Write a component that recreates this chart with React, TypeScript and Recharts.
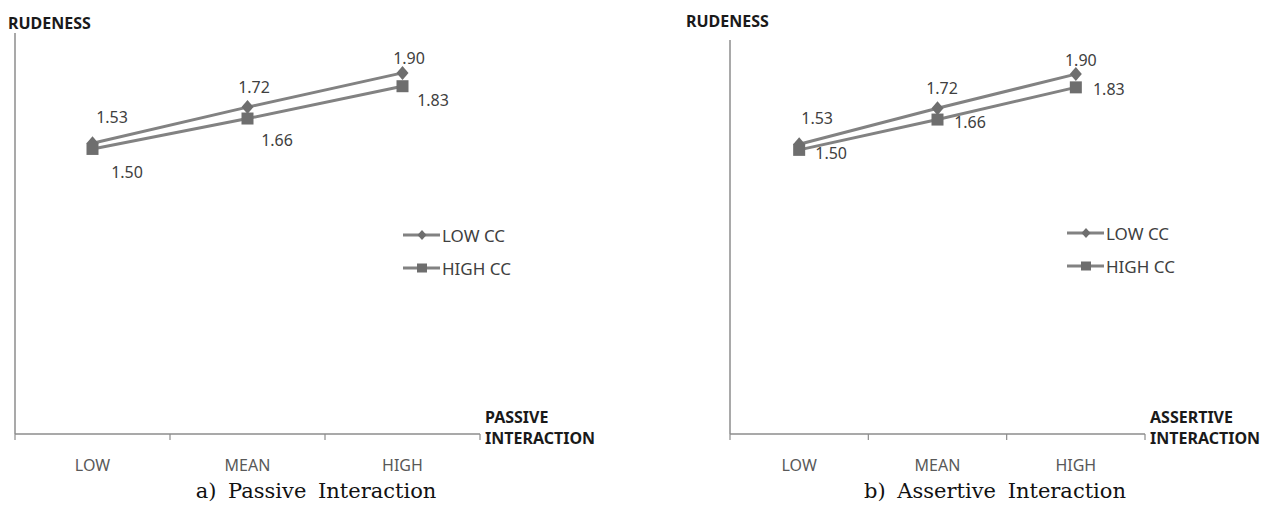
import React from "react";
import { LineChart, Line, XAxis, YAxis, Legend, LabelList } from "recharts";

// values
const categories = ["LOW", "MEAN", "HIGH"];
const passiveLowCC = [1.53, 1.72, 1.9];
const passiveHighCC = [1.5, 1.66, 1.83];
const assertiveLowCC = [1.53, 1.72, 1.9];
const assertiveHighCC = [1.5, 1.66, 1.83];
const seriesOrder = ["low", "high"];

const LINE = "#828282";
const MARK = "#6e6e6e";
const AXIS = "#8c8c8c";
const FONT = "'Noto Sans', sans-serif";

type Off = [number, number][];

// label offsets (dx, dy) from each point, like the hand-placed Excel labels
const passiveLowOff: Off = [[19.5, -26], [6.5, -20], [6.5, -15]];
const passiveHighOff: Off = [[34.5, 23], [29.5, 21.5], [30.5, 14]];
const assertiveLowOff: Off = [[18, -26], [4.5, -20], [5, -14]];
const assertiveHighOff: Off = [[32, 3], [32.5, 2.5], [33, 1.5]];

const diamondPath = (cx: number, cy: number, w: number, h: number) =>
  `M${cx},${cy - h} L${cx + w},${cy} L${cx},${cy + h} L${cx - w},${cy} Z`;

const DiamondDot = (props: any) => {
  const { cx, cy, index } = props;
  if (cx == null || cy == null) return <g key={`dd-${index}`} />;
  return <path key={`dd-${index}`} d={diamondPath(cx, cy, 6, 7)} fill={MARK} />;
};

const SquareDot = (props: any) => {
  const { cx, cy, index } = props;
  if (cx == null || cy == null) return <g key={`sd-${index}`} />;
  return <rect key={`sd-${index}`} x={cx - 6} y={cy - 6} width={12} height={12} fill={MARK} />;
};

const labelAt = (offs: Off) => (props: any) => {
  const { x, y, value, index } = props;
  const [dx, dy] = offs[index] || [0, -12];
  return (
    <text
      x={x + dx}
      y={y + dy}
      textAnchor="middle"
      dominantBaseline="central"
      fontFamily={FONT}
      fontSize={16}
      fill="#404040"
    >
      {Number(value).toFixed(2)}
    </text>
  );
};

const makeTick = (bw: number) => (props: any) => {
  const { x, y, payload, index } = props;
  const last = index === categories.length - 1;
  return (
    <g>
      <line x1={x - bw / 2} x2={x - bw / 2} y1={y} y2={y + 6} stroke={AXIS} strokeWidth={1.2} />
      {last && (
        <line x1={x + bw / 2} x2={x + bw / 2} y1={y} y2={y + 6} stroke={AXIS} strokeWidth={1.2} />
      )}
      <text
        x={x}
        y={y + 31}
        textAnchor="middle"
        dominantBaseline="central"
        fontFamily={FONT}
        fontSize={16}
        fill="#595959"
      >
        {payload.value}
      </text>
    </g>
  );
};

const legendContent = (props: any) => {
  const items = [...(props.payload || [])].sort(
    (a: any, b: any) => seriesOrder.indexOf(a.dataKey) - seriesOrder.indexOf(b.dataKey)
  );
  return (
    <div style={{ fontFamily: FONT }}>
      {items.map((entry: any) => (
        <div key={entry.value} style={{ display: "flex", alignItems: "center", height: 33 }}>
          <svg width={37} height={16}>
            <line x1={0} x2={37} y1={8} y2={8} stroke={LINE} strokeWidth={3} />
            {entry.dataKey === "low" ? (
              <path d={diamondPath(19, 8, 4.5, 5)} fill={MARK} />
            ) : (
              <rect x={14} y={3.5} width={10} height={9} fill={MARK} />
            )}
          </svg>
          <span style={{ marginLeft: 2, fontSize: 17, color: "#404040" }}>{entry.value}</span>
        </div>
      ))}
    </div>
  );
};

interface PanelProps {
  left: number;
  width: number;
  margin: { top: number; left: number; right: number; bottom: number };
  yMax: number;
  low: number[];
  high: number[];
  lowOff: Off;
  highOff: Off;
  xTitle: string;
  yTitleDx: number;
  yTitleDy: number;
  legendLeft: number;
  legendTop: number;
}

function Panel(p: PanelProps) {
  const data = categories.map((c, i) => ({ cat: c, low: p.low[i], high: p.high[i] }));
  const plotWidth = p.width - p.margin.left - p.margin.right - 1;
  const bw = plotWidth / categories.length;

  const yTitle = (props: any) => {
    const vb = props.viewBox;
    return (
      <text
        x={vb.x + vb.width + p.yTitleDx}
        y={vb.y + p.yTitleDy}
        dominantBaseline="central"
        fontFamily={FONT}
        fontWeight={700}
        fontSize={16}
        fill="#1a1a1a"
      >
        RUDENESS
      </text>
    );
  };

  const xTitle = (props: any) => {
    const vb = props.viewBox;
    const tx = vb.x + vb.width + 5;
    return (
      <text fontFamily={FONT} fontWeight={700} fontSize={16} fill="#1a1a1a">
        <tspan x={tx} y={vb.y - 17} dominantBaseline="central">
          {p.xTitle}
        </tspan>
        <tspan x={tx} y={vb.y + 4} dominantBaseline="central">
          INTERACTION
        </tspan>
      </text>
    );
  };

  return (
    <div style={{ position: "absolute", left: p.left, top: 0 }}>
      <LineChart width={p.width} height={511} data={data} margin={p.margin}>
        <XAxis
          dataKey="cat"
          scale="band"
          height={40}
          axisLine={{ stroke: AXIS, strokeWidth: 1.5 }}
          tickLine={false}
          tickSize={0}
          tickMargin={0}
          tick={makeTick(bw)}
          interval={0}
          label={{ content: xTitle }}
        />
        <YAxis
          type="number"
          domain={[0, p.yMax]}
          width={1}
          tick={false}
          tickLine={false}
          axisLine={{ stroke: AXIS, strokeWidth: 1.5 }}
          label={{ content: yTitle }}
        />
        <Legend
          layout="vertical"
          align="center"
          verticalAlign="middle"
          content={legendContent}
          wrapperStyle={{ position: "absolute", left: p.legendLeft, top: p.legendTop, width: 120 }}
        />
        <Line
          dataKey="low"
          name="LOW CC"
          stroke={LINE}
          strokeWidth={3}
          dot={DiamondDot}
          activeDot={false}
          isAnimationActive={false}
        >
          <LabelList dataKey="low" content={labelAt(p.lowOff)} />
        </Line>
        <Line
          dataKey="high"
          name="HIGH CC"
          stroke={LINE}
          strokeWidth={3}
          dot={SquareDot}
          activeDot={false}
          isAnimationActive={false}
        >
          <LabelList dataKey="high" content={labelAt(p.highOff)} />
        </Line>
      </LineChart>
    </div>
  );
}

const captionStyle = (cx: number): React.CSSProperties => ({
  position: "absolute",
  left: cx - 200,
  width: 400,
  top: 479,
  textAlign: "center",
  fontFamily: "'DejaVu Serif', serif",
  fontSize: 21,
  lineHeight: "24px",
  wordSpacing: 5,
  color: "#111",
});

export default function App() {
  return (
    <div
      style={{
        position: "absolute",
        left: 0,
        top: 0,
        width: 1283,
        height: 511,
        background: "#fff",
        overflow: "hidden",
      }}
    >
      <Panel
        left={0}
        width={600}
        margin={{ top: 33, left: 14, right: 120, bottom: 37 }}
        yMax={2.11}
        low={passiveLowCC}
        high={passiveHighCC}
        lowOff={passiveLowOff}
        highOff={passiveHighOff}
        xTitle="PASSIVE"
        yTitleDx={-7}
        yTitleDy={-10}
        legendLeft={403}
        legendTop={218.5}
      />
      <Panel
        left={620}
        width={663}
        margin={{ top: 40, left: 109, right: 138, bottom: 37 }}
        yMax={2.08}
        low={assertiveLowCC}
        high={assertiveHighCC}
        lowOff={assertiveLowOff}
        highOff={assertiveHighOff}
        xTitle="ASSERTIVE"
        yTitleDx={-44}
        yTitleDy={-19}
        legendLeft={447}
        legendTop={216.5}
      />
      <div style={captionStyle(316)}>a) Passive Interaction</div>
      <div style={captionStyle(995)}>b) Assertive Interaction</div>
    </div>
  );
}
